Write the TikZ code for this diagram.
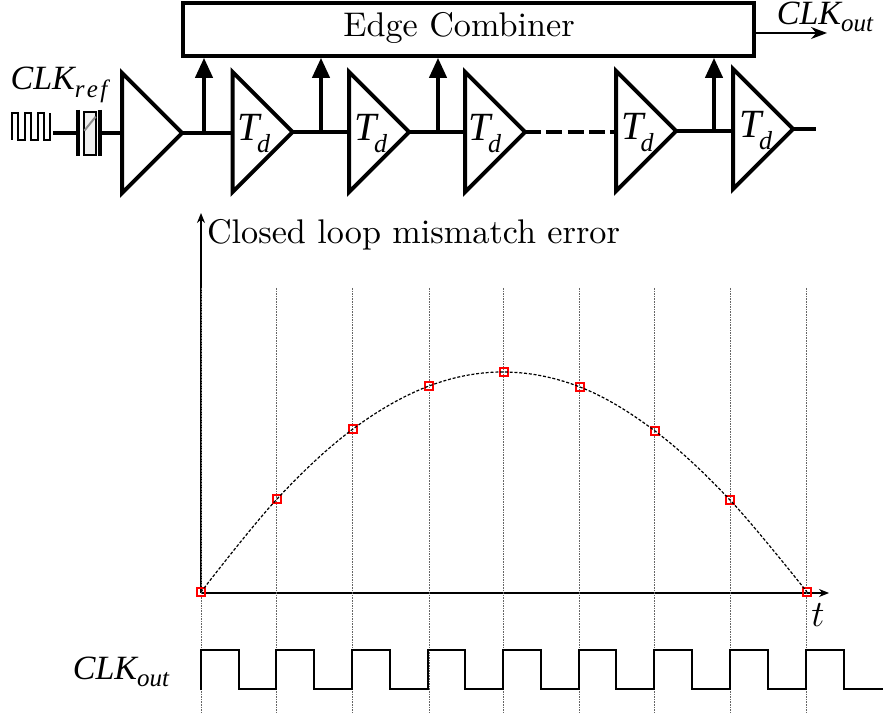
\documentclass[tikz,border=0pt]{standalone}
\usepackage{fix-cm}
\usepackage{amsmath,amssymb}
\usepackage{fontspec}
\usepackage{xcolor}
\usetikzlibrary{arrows.meta, positioning, calc, shapes.geometric}
\newfontfamily\timesfam{Liberation Serif}
\newcommand{\clksig}[1]{{\timesfam\itshape\fontsize{17}{20}\selectfont CLK\raisebox{-0.22em}{\fontsize{12.5}{14}\selectfont #1}}}
\newcommand{\delaylab}{{\timesfam\itshape\fontsize{20}{22}\selectfont T\kern-1.5pt\raisebox{-0.3em}{\fontsize{13}{14}\selectfont d}}}
\newcommand{\bigcm}[1]{\scalebox{1.71}{\fontsize{10}{12}\selectfont #1}}

\begin{document}
\begin{tikzpicture}[
    x=0.5pt, y=-0.5pt,
    buffer/.style={isosceles triangle, isosceles triangle stretches, draw, line width=2pt, miter limit=10, minimum width=60pt, minimum height=30pt, inner sep=0pt, outer sep=0pt, shape border rotate=0},
    combiner/.style={rectangle, draw, line width=1.8pt, minimum width=285.5pt, minimum height=26.5pt, inner sep=0pt},
    bigtext/.style={font=\fontsize{18.6}{20}\selectfont, inner sep=0pt},
    wire/.style={line width=1.6pt},
    arr/.style={-{Triangle[length=10pt, width=8.5pt]}, line width=2pt},
    thinarr/.style={-{Stealth[length=8pt, width=6pt]}, line width=0.7pt},
    axisarr/.style={-{Stealth[length=5pt, width=4pt]}, line width=0.7pt},
    grid/.style={dash pattern=on 0.8pt off 0.5pt, line width=0.5pt, black!60},
    marker/.style={rectangle, draw=red, line width=0.9pt, minimum size=4pt, inner sep=0pt},
]
\useasboundingbox (0,0) rectangle (883,716);

% Edge combiner block
\node[combiner] (comb) at (468.5,29.5) {};
\node[bigtext] (combtext) at (459,28) {\bigcm{Edge Combiner}};

% Delay chain
\node[buffer] (buf0) at (147,133) {};
\node[buffer] (td1) at (257.5,132) {};
\node[buffer] (td2) at (374,132) {};
\node[buffer] (td3) at (490,132) {};
\node[buffer] (td4) at (641,131) {};
\node[buffer] (td5) at (758,129) {};
\node[bigtext] (lab1) at (254,134) {\delaylab};
\node[bigtext] (lab2) at (371,134) {\delaylab};
\node[bigtext] (lab3) at (485,134) {\delaylab};
\node[bigtext] (lab4) at (637.5,133) {\delaylab};
\node[bigtext] (lab5) at (756,131) {\delaylab};

% Chain wires
\draw[wire] (buf0.east) -- (td1.west |- buf0.east);
\draw[wire] (td1.east) -- (td2.west |- td1.east);
\draw[wire] (td2.east) -- (td3.west |- td2.east);
\draw[wire, dash pattern=on 8pt off 2.6pt] (td3.east) -- (td4.west |- td3.east);
\draw[wire] (td4.east) -- (td5.west |- td4.east);
\coordinate (endwire) at (816,129);
\draw[wire] (td5.east) -- (endwire);

% Taps into the combiner
\coordinate (tap0) at (204,133);
\coordinate (tap1) at (321,131);
\coordinate (tap2) at (438,131);
\coordinate (tap3) at (714,131);
\draw[arr] (tap0) -- (tap0 |- comb.south);
\draw[arr] (tap1) -- (tap1 |- comb.south);
\draw[arr] (tap2) -- (tap2 |- comb.south);
\draw[arr] (tap3) -- (tap3 |- comb.south);

% Output of combiner
\coordinate (outend) at (827,33);
\draw[thinarr] (comb.east |- outend) -- (outend);
\node[bigtext] (clkout) at (825,17) {\clksig{out}};

% Reference input
\node[bigtext] (clkref) at (59,85) {\clksig{r\kern1.2pt e\kern1.2pt f}};
\coordinate (sq) at (12,140);
\draw[line width=1pt] (sq) -- ++(0,-27) -- ++(6,0) -- ++(0,27) -- ++(7,0) -- ++(0,-27) -- ++(6,0) -- ++(0,27) -- ++(7,0) -- ++(0,-27) -- ++(6,0) -- ++(0,27) -- ++(6,0) -- ++(0,-27);
\node[draw, line width=1.3pt, fill=black!6, minimum width=6pt, minimum height=21.5pt, inner sep=0pt] (xtal) at (90,133.5) {};
\draw[black!45, line width=1pt] ([xshift=0.8pt,yshift=-10pt]xtal.north west) -- ([xshift=-0.8pt,yshift=-3pt]xtal.north east);
\coordinate (platel) at (78,133);
\coordinate (plater) at (100,133);
\draw[line width=2pt] ([yshift=11.5pt]platel) -- ([yshift=-11.5pt]platel);
\draw[line width=2pt] ([yshift=11.5pt]plater) -- ([yshift=-11.5pt]plater);
\coordinate (inwire) at (53,133);
\draw[wire] (inwire) -- (platel);
\draw[wire] (plater) -- (buf0.west |- plater);

% Axes
\coordinate (orig) at (201,593);
\coordinate (ytop) at (201,213);
\coordinate (xend) at (829,593);
\draw[axisarr] (orig) -- (ytop);
\draw[axisarr] (orig) -- (xend);
\node[bigtext] (ylab) at (413.5,235) {\bigcm{Closed loop mismatch error}};
\node[bigtext] (tlab) at (818,615) {$t$};

% Grid lines
\draw[grid] (201,288) coordinate (g0) -- (g0 |- 0,712);
\draw[grid] (276,288) coordinate (g1) -- (g1 |- 0,712);
\draw[grid] (352,288) coordinate (g2) -- (g2 |- 0,712);
\draw[grid] (429,288) coordinate (g3) -- (g3 |- 0,712);
\draw[grid] (503,288) coordinate (g4) -- (g4 |- 0,712);
\draw[grid] (579,288) coordinate (g5) -- (g5 |- 0,712);
\draw[grid] (654,288) coordinate (g6) -- (g6 |- 0,712);
\draw[grid] (730,288) coordinate (g7) -- (g7 |- 0,712);
\draw[grid] (806,288) coordinate (g8) -- (g8 |- 0,712);

% Sample points
\node[marker] (m0) at (201,592) {};
\node[marker] (m1) at (277,499) {};
\node[marker] (m2) at (353,429) {};
\node[marker] (m3) at (429,386) {};
\node[marker] (m4) at (504,372) {};
\node[marker] (m5) at (580,387) {};
\node[marker] (m6) at (655,431) {};
\node[marker] (m7) at (730,500) {};
\node[marker] (m8) at (807,592) {};

% Mismatch curve
\draw[line width=0.6pt, dash pattern=on 1.5pt off 0.9pt] plot[smooth, tension=0.6] coordinates {(m0) (m1) (m2) (m3) (m4) (m5) (m6) (m7) (m8)};

% Output clock
\node[bigtext] (clkwave) at (121,672) {\clksig{out}};
\coordinate (wstart) at (201,690);
\draw[line width=1.1pt] (wstart) -- ++(0,-40) -- ++(38,0) -- ++(0,39) -- ++(37,0) -- ++(0,-39) -- ++(38,0) -- ++(0,39) -- ++(38,0) -- ++(0,-39) -- ++(38,0) -- ++(0,39) -- ++(38,0) -- ++(0,-39) -- ++(37,0) -- ++(0,39) -- ++(38,0) -- ++(0,-39) -- ++(38,0) -- ++(0,39) -- ++(38,0) -- ++(0,-39) -- ++(37,0) -- ++(0,39) -- ++(38,0) -- ++(0,-39) -- ++(38,0) -- ++(0,39) -- ++(38,0) -- ++(0,-39) -- ++(38,0) -- ++(0,39) -- ++(38,0) -- ++(0,-39) -- ++(38,0) -- ++(0,39) -- ++(39,0);
\end{tikzpicture}
\end{document}
